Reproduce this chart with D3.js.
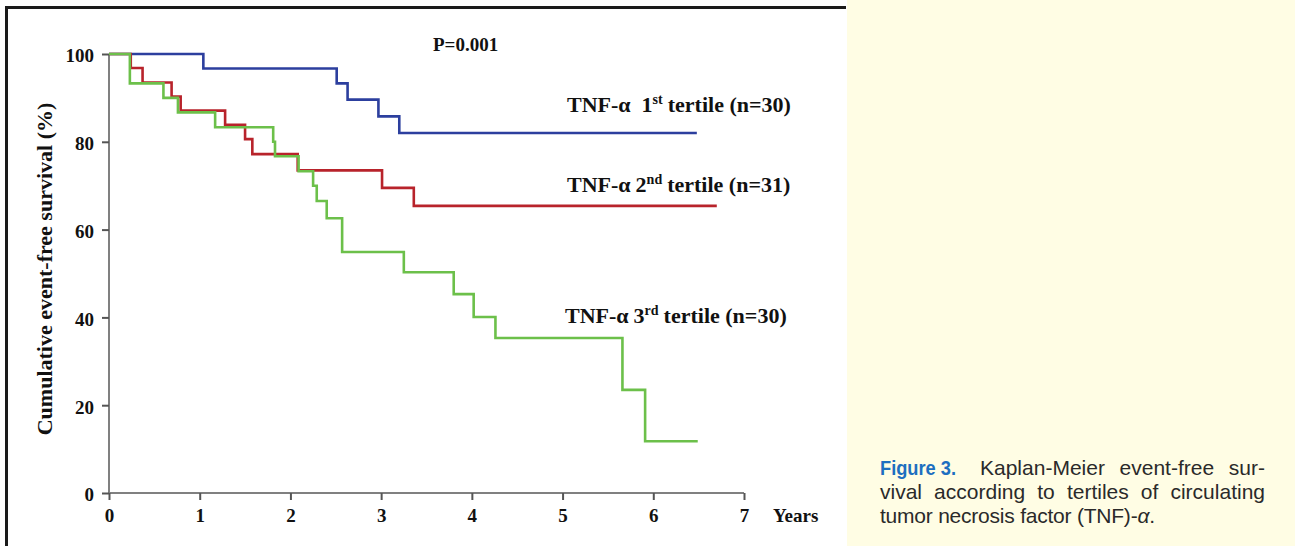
<!DOCTYPE html>
<html>
<head>
<meta charset="utf-8">
<script src="https://cdn.jsdelivr.net/npm/d3@7"></script>
<style>
  html, body { margin: 0; padding: 0; background: #fff; }
  svg { display: block; }
</style>
</head>
<body>
<svg id="chart" width="1295" height="546"></svg>
<script>
// ---- Data ----
const xTicks = [0, 1, 2, 3, 4, 5, 6, 7];
const yTicks = [0, 20, 40, 60, 80, 100];

const tertile1Time = [0, 1.04, 2.51, 2.63, 2.97, 3.20, 6.48];
const tertile1Surv = [100, 96.7, 93.3, 89.6, 85.8, 82.0, 82.0];

const tertile2Time = [0, 0.24, 0.37, 0.69, 0.79, 1.28, 1.50, 1.58, 2.08, 3.01, 3.36, 6.70];
const tertile2Surv = [100, 96.8, 93.5, 90.3, 87.1, 83.9, 80.6, 77.2, 73.5, 69.5, 65.4, 65.4];

const tertile3Time = [0, 0.23, 0.60, 0.76, 1.17, 1.81, 1.83, 2.09, 2.25, 2.29, 2.40, 2.57, 3.25, 3.80, 4.02, 4.26, 5.66, 5.91, 6.49];
const tertile3Surv = [100, 93.3, 90.0, 86.7, 83.3, 80.0, 76.7, 73.3, 70.0, 66.5, 62.6, 54.9, 50.3, 45.3, 40.1, 35.3, 23.5, 11.8, 11.8];

const seriesNames = ["1st", "2nd", "3rd"];
const seriesN = [30, 31, 30];
const seriesColors = ["#2c3f9e", "#b8232b", "#6cc04a"];

const captionLines = [
  "Kaplan-Meier event-free sur-",
  "vival according to tertiles of circulating",
  "tumor necrosis factor (TNF)-"
];

// ---- Layout ----
const svg = d3.select("#chart");
const W = 1295, H = 546;
const x = d3.scaleLinear().domain([0, 7]).range([109, 744]);
const y = d3.scaleLinear().domain([0, 100]).range([493, 54]);

// right yellow panel
svg.append("rect").attr("x", 847).attr("y", 0).attr("width", W - 847).attr("height", H).attr("fill", "#fffde4");

// black frame (top + left)
svg.append("path").attr("d", "M6.5,546 L6.5,7.5 L846,7.5").attr("fill", "none").attr("stroke", "#1a1a1a").attr("stroke-width", 3);

const serif = "'Liberation Serif', 'Times New Roman', serif";

// axes
const yAxis = d3.axisLeft(y).tickValues(yTicks).tickSize(7).tickPadding(8).tickFormat(d3.format("d"));
const xAxis = d3.axisBottom(x).tickValues(xTicks).tickSize(7).tickPadding(9).tickFormat(d3.format("d"));

const gy = svg.append("g").attr("transform", `translate(${x(0)},0)`).call(yAxis);
const gx = svg.append("g").attr("transform", `translate(0,${y(0)})`).call(xAxis);

[gx, gy].forEach(g => {
  g.select(".domain").attr("stroke", "#808080").attr("stroke-width", 2);
  g.selectAll(".tick line").attr("stroke", "#555").attr("stroke-width", 2);
  g.selectAll(".tick text").attr("font-family", serif).attr("font-weight", "bold")
    .attr("font-size", 19).attr("fill", "#111");
});
gy.select(".domain").attr("d", `M0,${y(100)}V${y(0)}`);
gx.select(".domain").attr("d", `M${x(0)},0H${x(7)}`);
gy.selectAll(".tick text").attr("dy", "0.42em");

// axis labels
svg.append("text")
  .attr("transform", `translate(52,${(100 + 438) / 2}) rotate(-90)`)
  .attr("text-anchor", "middle")
  .attr("font-family", serif).attr("font-weight", "bold").attr("font-size", 22).attr("fill", "#111")
  .text("Cumulative event-free survival (%)");

svg.append("text")
  .attr("x", 773).attr("y", 522)
  .attr("font-family", serif).attr("font-weight", "bold").attr("font-size", 19).attr("fill", "#111")
  .text("Years");

// curves
const line = d3.line().x(d => x(d[0])).y(d => y(d[1])).curve(d3.curveStepAfter);
const series = [
  d3.zip(tertile1Time, tertile1Surv),
  d3.zip(tertile2Time, tertile2Surv),
  d3.zip(tertile3Time, tertile3Surv)
];
series.forEach((s, i) => {
  svg.append("path").datum(s)
    .attr("d", line)
    .attr("fill", "none")
    .attr("stroke", seriesColors[i])
    .attr("stroke-width", 2.6);
});

// P value
svg.append("text")
  .attr("x", 433).attr("y", 51)
  .attr("font-family", serif).attr("font-weight", "bold").attr("font-size", 19).attr("fill", "#111")
  .text("P=0.001");

// series labels
const labelPos = [[567, 112], [567, 192], [565, 323]];
seriesNames.forEach((nm, i) => {
  const t = svg.append("text")
    .attr("x", labelPos[i][0]).attr("y", labelPos[i][1])
    .attr("font-family", serif).attr("font-weight", "bold").attr("font-size", 22).attr("fill", "#111");
  t.append("tspan").text("TNF-α");
  t.append("tspan").attr("dx", i === 0 ? 11 : 5).text(nm[0]);
  t.append("tspan").attr("font-size", 14).attr("dy", -8).text(nm.slice(1));
  t.append("tspan").attr("dy", 8).attr("dx", 5).text(`tertile (n=${seriesN[i]})`);
});

// caption
const capSans = "'Liberation Sans', Arial, Helvetica, sans-serif";
svg.append("text")
  .attr("x", 880).attr("y", 475)
  .attr("font-family", "'Liberation Sans Narrow', 'Liberation Sans', Arial, sans-serif")
  .attr("font-weight", "bold").attr("font-size", 20).attr("fill", "#1d6fc0")
  .attr("textLength", 76).attr("lengthAdjust", "spacingAndGlyphs")
  .text("Figure 3.");

const capX = [[980, 1265], [880, 1265], [880, 1155]];
const capY = [475, 499, 523];
captionLines.forEach((ln, i) => {
  const t = svg.append("text")
    .attr("x", capX[i][0]).attr("y", capY[i])
    .attr("font-family", capSans).attr("font-size", 21).attr("fill", "#2a2a2a");
  t.append("tspan").text(ln);
  if (i === captionLines.length - 1) {
    t.append("tspan").attr("font-style", "italic").text("α");
    t.append("tspan").text(".");
  }
  // justify by word spacing
  const natural = t.node().getComputedTextLength();
  const target = capX[i][1] - capX[i][0];
  const spaces = (ln.match(/ /g) || []).length;
  if (i < captionLines.length - 1 && spaces > 0) {
    t.attr("word-spacing", (target - natural) / spaces);
  } else {
    t.attr("letter-spacing", (target - natural) / (ln.length + 1));
  }
});
</script>
</body>
</html>
